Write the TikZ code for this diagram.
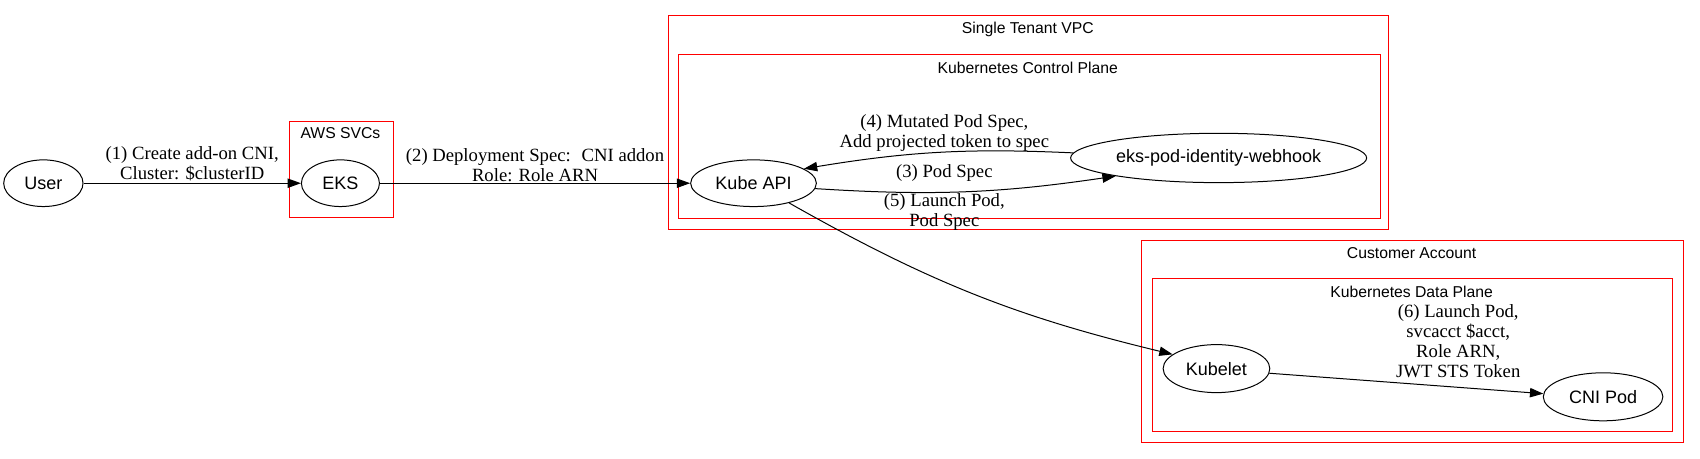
\documentclass[tikz,border=0pt]{standalone}
\usepackage{fontspec}
\setmainfont{Liberation Serif}
\newfontfamily\gvsansfamily{Liberation Sans}
\usetikzlibrary{shapes.geometric,arrows.meta}
\newcommand{\nodefont}{\gvsansfamily\fontsize{13.5}{15}\selectfont}
\newcommand{\clusterfont}{\gvsansfamily\fontsize{11.8}{14}\selectfont}
\newcommand{\labelfont}{\fontsize{14}{15}\selectfont}
\begin{document}
\begin{tikzpicture}[x=0.8131pt,y=0.8131pt,
  gvnode/.style={ellipse,draw,line width=0.75pt,font=\nodefont,inner sep=0pt,minimum height=35pt},
  cluster/.style={draw=red,line width=0.75pt},
  clusterlabel/.style={font=\clusterfont,inner sep=0pt},
  edgelabel/.style={font=\labelfont,align=center,inner sep=1pt},
  flow/.style={draw,line width=0.75pt,-{Triangle[length=10pt,width=7pt]}}]
  \useasboundingbox (0,0) rectangle (1568,423);
  % clusters
  \draw[cluster] (267,311) rectangle (363,222);
  \node[clusterlabel] (awslbl) at (314,300) {AWS SVCs};
  \draw[cluster] (617,409) rectangle (1281,211.5);
  \node[clusterlabel] (vpclbl) at (948,396) {Single Tenant VPC};
  \draw[cluster] (626,373) rectangle (1273,221.6);
  \node[clusterlabel] (cplbl) at (948,360.6) {Kubernetes Control Plane};
  \draw[cluster] (1053,201.6) rectangle (1553,14.7);
  \node[clusterlabel] (acctlbl) at (1302,190) {Customer Account};
  \draw[cluster] (1063,165.7) rectangle (1543,24.8);
  \node[clusterlabel] (dplbl) at (1302,154) {Kubernetes Data Plane};
  % nodes
  \node[gvnode,minimum width=59.5pt] (user) at (40,254) {User};
  \node[gvnode,minimum width=58.5pt] (eks) at (314,254) {EKS};
  \node[gvnode,minimum width=94.3pt] (kubeapi) at (695,254) {Kube API};
  \node[gvnode,minimum width=222pt,minimum height=37pt] (webhook) at (1124,277.3) {eks-pod-identity-webhook};
  \node[gvnode,minimum width=80pt,minimum height=36pt] (kubelet) at (1122,83) {Kubelet};
  \node[gvnode,minimum width=89.7pt,minimum height=36pt] (cnipod) at (1478.6,57) {CNI Pod};
  % edges
  \path[flow] (user) -- (eks)
    node[midway,above,edgelabel] (lblcreate) {(1) Create add-on CNI,\\Cluster: \$clusterID};
  \path[flow] (eks) -- (kubeapi)
    node[midway,above,edgelabel] (lbldeploy) {(2) Deployment Spec:~ CNI addon\\Role: Role ARN};
  \path[flow] (kubeapi.-5) to[bend right=6] (webhook.190);
  \path[flow] (webhook.178) to[bend right=6] (kubeapi.16);
  \path[flow] (kubeapi.-29) to[bend right=8] (kubelet.162);
  \path[flow] (kubelet.-5) -- (cnipod.177);
  % edge labels
  \node[edgelabel] (lblpodspec) at (871,263.7) {(3) Pod Spec};
  \node[edgelabel] (lblmutated) at (871,300.6) {(4) Mutated Pod Spec,\\Add projected token to spec};
  \node[edgelabel] (lbllaunch) at (871,227.7) {(5) Launch Pod,\\Pod Spec};
  \node[edgelabel] (lblcni) at (1345,108.5) {(6) Launch Pod,\\svcacct \$acct,\\Role ARN,\\JWT STS Token};
\end{tikzpicture}
\end{document}
